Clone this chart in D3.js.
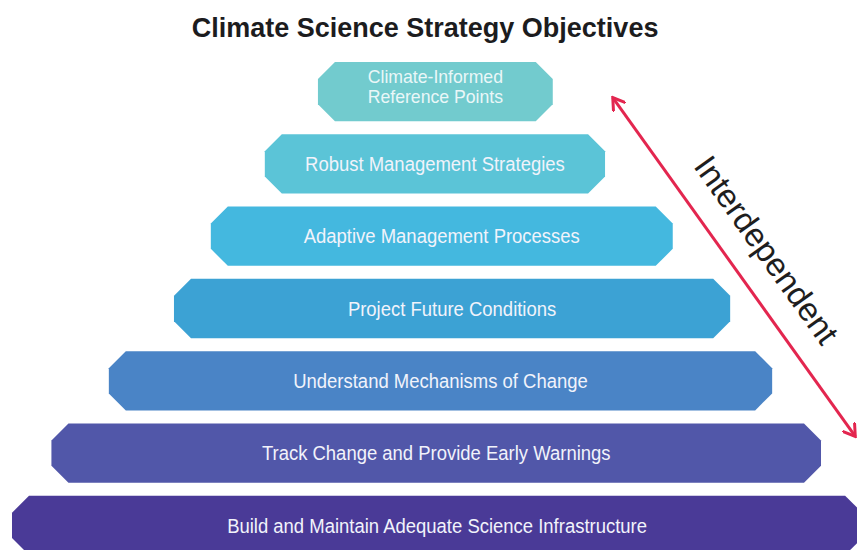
<!DOCTYPE html>
<html>
<head>
<meta charset="utf-8">
<script src="https://cdn.jsdelivr.net/npm/d3@7"></script>
<style>
  html, body { margin: 0; padding: 0; background: #fff; }
  svg { display: block; }
</style>
</head>
<body>
<svg id="chart"></svg>
<script>
// pyramid levels, top to bottom
const levels = [
  "Climate-Informed Reference Points",
  "Robust Management Strategies",
  "Adaptive Management Processes",
  "Project Future Conditions",
  "Understand Mechanisms of Change",
  "Track Change and Provide Early Warnings",
  "Build and Maintain Adequate Science Infrastructure"
];
const labelLines = [
  ["Climate-Informed", "Reference Points"],
  ["Robust Management Strategies"],
  ["Adaptive Management Processes"],
  ["Project Future Conditions"],
  ["Understand Mechanisms of Change"],
  ["Track Change and Provide Early Warnings"],
  ["Build and Maintain Adequate Science Infrastructure"]
];
// horizontal extent of each level, % of page width
const spanStart = [37.1, 30.9, 24.6, 20.3, 12.7, 6.0, 1.4];
const spanEnd = [64.5, 70.6, 78.5, 85.2, 90.1, 95.8, 100.6];
const fills = ["#72cbce", "#5bc4d7", "#44b8df", "#3ca2d4", "#4a84c6", "#5157a9", "#4a3a97"];
const title = "Climate Science Strategy Objectives";
const arrowLabel = "Interdependent";

const W = 857, H = 550;
const svg = d3.select("#chart").attr("width", W).attr("height", H);
svg.append("rect").attr("width", W).attr("height", H).attr("fill", "#fff");

const x = d3.scaleLinear().domain([0, 100]).range([0, W]);
const y = d3.scaleBand().domain(levels).range([62, 555]).paddingInner(0.18);
const bw = y.bandwidth();
const cut = 17;

// chamfered (octagon-ish) bar
function octagon(x0, x1, y0, h) {
  const p = d3.path();
  p.moveTo(x0 + cut, y0);
  p.lineTo(x1 - cut, y0);
  p.lineTo(x1, y0 + cut);
  p.lineTo(x1, y0 + h - cut);
  p.lineTo(x1 - cut, y0 + h);
  p.lineTo(x0 + cut, y0 + h);
  p.lineTo(x0, y0 + h - cut);
  p.lineTo(x0, y0 + cut);
  p.closePath();
  return p.toString();
}

const rows = levels.map((name, i) => ({
  name, lines: labelLines[i], x0: x(spanStart[i]), x1: x(spanEnd[i]), fill: fills[i]
}));

const g = svg.selectAll("g.level").data(rows).join("g").attr("class", "level");
g.append("path")
  .attr("d", (d) => octagon(d.x0, d.x1, y(d.name), bw))
  .attr("fill", (d) => d.fill);

// labels: no narrow face installed, so squeeze Liberation Sans horizontally
g.each(function (d, i) {
  const cx = (d.x0 + d.x1) / 2;
  const cy = y(d.name) + bw / 2;
  const multi = d.lines.length > 1;
  const fs = multi ? 18 : 21;
  const lh = 20.5;
  const t = d3.select(this).append("text")
    .attr("transform", `translate(${cx},${cy}) scale(${multi ? 0.98 : 0.88},1)`)
    .attr("text-anchor", "middle")
    .attr("font-family", "'Liberation Sans', Arial, sans-serif")
    .attr("font-size", fs)
    .attr("fill", i === 0 ? "#eaf7f8" : "#f1f3fb");
  d.lines.forEach((ln, k) => {
    t.append("tspan")
      .attr("x", 0)
      .attr("y", multi ? (k - 0.5) * lh + 1.5 : fs * 0.34)
      .text(ln);
  });
});

// title
svg.append("text")
  .attr("x", x(49.6)).attr("y", 37)
  .attr("text-anchor", "middle")
  .attr("font-family", "'Liberation Sans', Arial, sans-serif")
  .attr("font-weight", 700).attr("font-size", 27)
  .attr("fill", "#1c1c1e")
  .text(title);

// interdependence arrow along the right flank
const red = "#e3264f";
const defs = svg.append("defs");
defs.append("marker")
  .attr("id", "head").attr("viewBox", "-12 -8 14 16")
  .attr("markerUnits", "userSpaceOnUse")
  .attr("markerWidth", 14).attr("markerHeight", 16)
  .attr("refX", 0).attr("refY", 0)
  .attr("orient", "auto-start-reverse")
  .append("path").attr("d", "M-11,-7 L0,0 L-11,7")
  .attr("fill", "none").attr("stroke", red).attr("stroke-width", 3)
  .attr("stroke-linejoin", "miter").attr("stroke-linecap", "round");

const a0 = [x(71.5), y(levels[0]) + bw * 0.6];
const a1 = [x(99.8), y(levels[5]) + bw * 0.22];
svg.append("line")
  .attr("x1", a0[0]).attr("y1", a0[1]).attr("x2", a1[0]).attr("y2", a1[1])
  .attr("stroke", red).attr("stroke-width", 3)
  .attr("marker-start", "url(#head)").attr("marker-end", "url(#head)");

const ang = Math.atan2(a1[1] - a0[1], a1[0] - a0[0]);
const mx = (a0[0] + a1[0]) / 2 + 5 * Math.cos(ang);
const my = (a0[1] + a1[1]) / 2 + 5 * Math.sin(ang);
const off = 25;
svg.append("text")
  .attr("transform", `translate(${mx + off * Math.sin(ang)},${my - off * Math.cos(ang)}) rotate(${ang * 180 / Math.PI})`)
  .attr("text-anchor", "middle")
  .attr("font-family", "'Liberation Sans', Arial, sans-serif")
  .attr("font-size", 33)
  .attr("fill", "#1e1e1e")
  .text(arrowLabel);
</script>
</body>
</html>
